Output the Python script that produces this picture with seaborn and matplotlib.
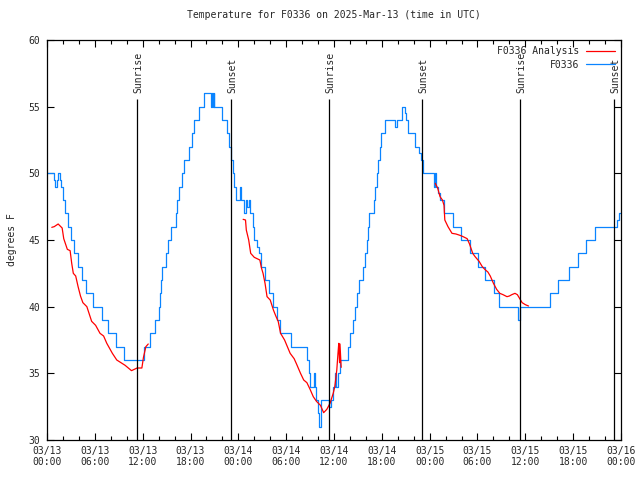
import matplotlib
matplotlib.use("Agg")
import matplotlib.pyplot as plt
import seaborn as sns
import pandas as pd
import numpy as np

# ---------------- data ----------------
title = "Temperature for F0336 on 2025-Mar-13 (time in UTC)"
ylabel = "degrees F"
obs_name = "F0336"
ana_name = "F0336 Analysis"

# observed station temps (hours since 03/13 00:00 UTC, deg F) - step series
blue_h = [0.0, 0.85, 1.05, 1.25, 1.4, 1.6, 1.75, 1.95, 2.25, 2.6, 3.0, 3.4, 3.9, 4.4, 4.9,
          5.8, 6.9, 7.6, 8.7, 9.6, 12.2, 12.9, 13.5, 14.0, 14.15, 14.3, 14.45, 14.9, 15.2,
          15.5, 16.2, 16.35, 16.6, 16.9, 17.2, 17.85, 18.15, 18.5, 19.1, 19.75, 20.55, 20.7,
          20.8, 20.9, 21.0, 22.0, 22.6, 22.85, 23.1, 23.3, 23.5, 23.7, 24.2, 24.35, 24.75,
          24.9, 25.1, 25.3, 25.5, 25.85, 26.0, 26.3, 26.55, 26.9, 27.35, 27.85, 28.4, 28.8,
          29.2, 30.6, 32.6, 32.85, 33.0, 33.45, 33.65, 33.8, 34.0, 34.15, 34.4, 35.35, 35.6,
          35.9, 36.1, 36.3, 36.45, 36.7, 37.75, 38.05, 38.35, 38.6, 38.9, 39.1, 39.6, 39.9,
          40.1, 40.3, 40.45, 41.0, 41.15, 41.35, 41.55, 41.75, 41.95, 42.4, 43.65, 43.85,
          44.5, 44.85, 45.0, 45.25, 46.1, 46.7, 46.9, 47.2, 48.6, 48.7, 48.8, 49.05, 49.25,
          49.85, 50.9, 51.9, 53.05, 54.1, 55.0, 56.1, 56.7, 59.05, 59.3, 63.05, 64.15, 65.45,
          66.6, 67.65, 68.7, 71.5, 71.75, 72.0]
blue_t = [50, 49.5, 49, 49.5, 50, 49.5, 49, 48, 47, 46, 45, 44, 43, 42, 41,
          40, 39, 38, 37, 36, 37, 38, 39, 40, 41, 42, 43, 44, 45,
          46, 47, 48, 49, 50, 51, 52, 53, 54, 55, 56, 55, 56,
          55, 56, 55, 54, 53, 52, 51, 50, 49, 48, 49, 48, 47,
          48, 47.5, 48, 47, 46, 45, 44.5, 44, 43, 42, 41, 40, 39,
          38, 37, 36, 35, 34, 35, 34, 33, 32, 31, 33, 32.5, 33,
          34, 35, 34, 35, 36, 37, 38, 39, 40, 41, 42, 43, 44,
          45, 46, 47, 48, 49, 50, 51, 52, 53, 54, 53.5, 54,
          55, 54.5, 54, 53, 52, 51.5, 51, 50, 49, 50, 49, 48.5, 48,
          47, 46, 45, 44, 43, 42, 41, 40, 39, 40, 41, 42, 43,
          44, 45, 46, 46.5, 47, 47]

# analysis temps, three separate runs
ana1_h = [0.6, 0.9, 1.4, 1.9, 2.1, 2.55, 2.9, 3.1, 3.3, 3.6, 3.9, 4.2, 4.5, 5.0, 5.6, 6.1,
          6.65, 7.1, 7.5, 8.2, 8.75, 9.8, 10.6, 11.3, 11.9, 12.1, 12.4, 12.7]
ana1_t = [45.95, 46.0, 46.2, 45.9, 45.1, 44.3, 44.2, 43.25, 42.5, 42.3, 41.5, 40.8, 40.3,
          40.0, 38.9, 38.6, 38.0, 37.8, 37.25, 36.5, 36.0, 35.6, 35.2, 35.4, 35.4, 36.2,
          37.0, 37.2]
ana2_h = [24.6, 24.9, 25.0, 25.3, 25.55, 26.0, 26.7, 26.9, 27.1, 27.35, 27.6, 28.0, 28.4,
          28.7, 29.0, 29.3, 29.8, 30.5, 31.0, 31.3, 31.8, 32.2, 32.6, 33.0, 33.4, 33.8,
          34.3, 34.7, 35.1, 35.5, 35.9, 36.1, 36.35, 36.5, 36.6, 36.7, 36.75, 36.9]
ana2_t = [46.55, 46.5, 45.75, 45.0, 44.0, 43.7, 43.5, 42.9, 42.5, 41.75, 40.75, 40.5, 39.75,
          39.3, 38.9, 38.0, 37.5, 36.5, 36.1, 35.7, 35.0, 34.5, 34.3, 33.8, 33.25, 32.9,
          32.6, 32.05, 32.3, 32.75, 33.5, 34.0, 35.25, 36.5, 37.25, 35.8, 37.2, 35.45]
ana3_h = [48.7, 49.0, 49.3, 49.6, 49.8, 49.9, 50.3, 50.8, 51.3, 51.8, 52.2, 52.7, 53.0,
          53.4, 53.7, 54.2, 54.6, 55.0, 55.3, 55.6, 56.0, 56.4, 56.8, 57.2, 57.7, 58.0,
          58.3, 58.7, 59.0, 59.3, 59.6, 60.0, 60.4]
ana3_t = [49.25, 48.9, 48.25, 48.0, 47.6, 46.5, 46.0, 45.5, 45.45, 45.35, 45.25, 45.1, 44.7,
          44.0, 43.75, 43.4, 43.0, 42.75, 42.6, 42.3, 41.75, 41.3, 41.0, 40.9, 40.75, 40.8,
          40.9, 41.0, 40.9, 40.6, 40.3, 40.15, 40.05]

# sun events (hours since 03/13 00:00 UTC)
sun_h = [11.29, 23.09, 35.4, 47.05, 59.35, 71.14]
sun_lbl = ["Sunrise", "Sunset", "Sunrise", "Sunset", "Sunrise", "Sunset"]

xtick_h = [0, 6, 12, 18, 24, 30, 36, 42, 48, 54, 60, 66, 72]
xtick_lbl = ["03/13\n00:00", "03/13\n06:00", "03/13\n12:00", "03/13\n18:00",
             "03/14\n00:00", "03/14\n06:00", "03/14\n12:00", "03/14\n18:00",
             "03/15\n00:00", "03/15\n06:00", "03/15\n12:00", "03/15\n18:00",
             "03/16\n00:00"]
ytick_v = [30, 35, 40, 45, 50, 55, 60]

# ---------------- plot ----------------
sns.set_style("ticks")
plt.rcParams["font.family"] = ["DejaVu Sans Mono", "DejaVu Sans"]
plt.rcParams["font.size"] = 7

fig = plt.figure(figsize=(6.4, 4.8), dpi=100)
ax = fig.add_axes([47 / 640, 40 / 480, 574 / 640, 400 / 480])

red = "#ff0000"
blue = "#0a84ff"

ana_df = pd.concat([
    pd.DataFrame({"h": ana1_h, "t": ana1_t, "seg": 1}),
    pd.DataFrame({"h": ana2_h, "t": ana2_t, "seg": 2}),
    pd.DataFrame({"h": ana3_h, "t": ana3_t, "seg": 3}),
])
obs_df = pd.DataFrame({"h": blue_h, "t": blue_t})

sns.lineplot(data=ana_df, x="h", y="t", units="seg", estimator=None, color=red,
             lw=0.9, ax=ax, label=ana_name, zorder=3, legend=False)
sns.lineplot(data=obs_df, x="h", y="t", estimator=None, color=blue, lw=0.9,
             drawstyle="steps-post", ax=ax, label=obs_name, zorder=2, legend=False)

# sun event lines
ax.vlines(sun_h, 30, 55.6, color="black", lw=0.9, zorder=4)
for h, lbl in zip(sun_h, sun_lbl):
    ax.text(h + 0.15, 56.05, lbl, rotation=90, ha="center", va="bottom", fontsize=7)

ax.set_xlim(0, 72)
ax.set_ylim(30, 60)
ax.set_xticks(xtick_h)
ax.set_xticklabels(xtick_lbl)
ax.set_xticks(np.arange(0, 73, 2), minor=True)
ax.set_yticks(ytick_v)
ax.set_yticklabels([str(v) for v in ytick_v])
ax.tick_params(which="both", direction="in", top=True, right=True, color="black",
               labelsize=7, width=0.8)
ax.tick_params(which="major", length=5, pad=4)
ax.tick_params(which="minor", length=3)
ax.tick_params(axis="y", pad=5)
for s in ax.spines.values():
    s.set_linewidth(0.9)
    s.set_color("black")

ax.set_xlabel("")
ax.set_ylabel(ylabel, fontsize=7, labelpad=8)
ax.set_title(title, fontsize=7, pad=16)

# one legend entry per series
uniq = {}
for ln in ax.get_lines():
    lab = ln.get_label()
    if lab in (ana_name, obs_name) and lab not in uniq:
        uniq[lab] = ln
handles = [uniq[ana_name], uniq[obs_name]]
leg = ax.legend(handles, [ana_name, obs_name], loc="upper right", frameon=False,
                markerfirst=False, fontsize=7, handlelength=3.0, handletextpad=0.6,
                borderaxespad=0.25, labelspacing=0.35)

fig.savefig("out.png", dpi=100)
